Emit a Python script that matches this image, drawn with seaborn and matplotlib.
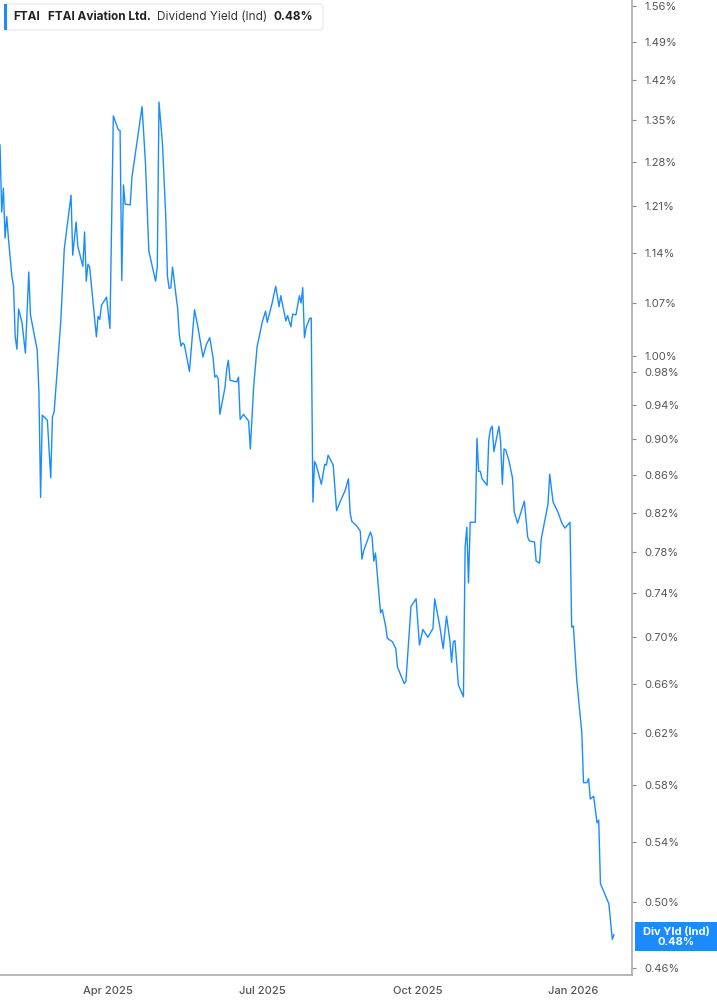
import pandas as pd
import seaborn as sns
import matplotlib.pyplot as plt
import matplotlib.dates as mdates
from matplotlib.patches import Rectangle, FancyBboxPatch
from matplotlib.ticker import FixedLocator, FixedFormatter, NullLocator

# dividend yield (Ind), percent
dates = [
    "2025-01-27", "2025-01-28", "2025-01-29", "2025-01-30", "2025-01-31", "2025-02-01",
    "2025-02-03", "2025-02-04", "2025-02-05", "2025-02-06", "2025-02-07", "2025-02-09",
    "2025-02-11", "2025-02-13", "2025-02-14", "2025-02-18", "2025-02-19", "2025-02-20",
    "2025-02-21", "2025-02-24", "2025-02-26", "2025-02-27", "2025-02-28", "2025-03-02",
    "2025-03-04", "2025-03-06", "2025-03-10", "2025-03-11", "2025-03-13", "2025-03-14",
    "2025-03-17", "2025-03-18", "2025-03-19", "2025-03-20", "2025-03-21", "2025-03-25",
    "2025-03-26", "2025-03-27", "2025-03-28", "2025-03-31", "2025-04-02", "2025-04-04",
    "2025-04-07", "2025-04-08", "2025-04-09", "2025-04-10", "2025-04-11", "2025-04-14",
    "2025-04-15", "2025-04-21", "2025-04-23", "2025-04-25", "2025-04-29", "2025-04-30",
    "2025-05-01", "2025-05-03", "2025-05-05", "2025-05-06", "2025-05-07", "2025-05-08",
    "2025-05-09", "2025-05-12", "2025-05-13", "2025-05-14", "2025-05-15", "2025-05-16",
    "2025-05-19", "2025-05-22", "2025-05-24", "2025-05-27", "2025-05-29", "2025-05-31",
    "2025-06-02", "2025-06-03", "2025-06-04", "2025-06-05", "2025-06-06", "2025-06-09",
    "2025-06-10", "2025-06-11", "2025-06-12", "2025-06-16", "2025-06-17", "2025-06-18",
    "2025-06-20", "2025-06-23", "2025-06-24", "2025-06-26", "2025-06-28", "2025-07-01",
    "2025-07-03", "2025-07-04", "2025-07-07", "2025-07-09", "2025-07-11", "2025-07-12",
    "2025-07-15", "2025-07-16", "2025-07-18", "2025-07-19", "2025-07-21", "2025-07-23",
    "2025-07-24", "2025-07-25", "2025-07-26", "2025-07-27", "2025-07-29", "2025-07-30",
    "2025-07-31", "2025-08-01", "2025-08-02", "2025-08-05", "2025-08-07", "2025-08-08",
    "2025-08-09", "2025-08-12", "2025-08-14", "2025-08-16", "2025-08-19", "2025-08-21",
    "2025-08-22", "2025-08-23", "2025-08-26", "2025-08-28", "2025-08-29", "2025-08-30",
    "2025-09-03", "2025-09-04", "2025-09-05", "2025-09-06", "2025-09-09", "2025-09-10",
    "2025-09-12", "2025-09-13", "2025-09-16", "2025-09-18", "2025-09-19", "2025-09-23",
    "2025-09-24", "2025-09-27", "2025-09-30", "2025-10-02", "2025-10-04", "2025-10-07",
    "2025-10-10", "2025-10-11", "2025-10-14", "2025-10-16", "2025-10-18", "2025-10-20",
    "2025-10-21", "2025-10-22", "2025-10-23", "2025-10-25", "2025-10-28", "2025-10-29",
    "2025-10-30", "2025-10-31", "2025-11-01", "2025-11-04", "2025-11-05", "2025-11-06",
    "2025-11-07", "2025-11-08", "2025-11-11", "2025-11-12", "2025-11-13", "2025-11-14",
    "2025-11-15", "2025-11-18", "2025-11-19", "2025-11-20", "2025-11-21", "2025-11-22",
    "2025-11-24", "2025-11-26", "2025-11-27", "2025-11-29", "2025-12-03", "2025-12-05",
    "2025-12-06", "2025-12-09", "2025-12-10", "2025-12-12", "2025-12-13", "2025-12-17",
    "2025-12-18", "2025-12-20", "2025-12-23", "2025-12-25", "2025-12-27", "2025-12-30",
    "2025-12-31", "2026-01-01", "2026-01-03", "2026-01-06", "2026-01-07", "2026-01-09",
    "2026-01-10", "2026-01-11", "2026-01-13", "2026-01-15", "2026-01-16", "2026-01-17",
    "2026-01-22", "2026-01-24", "2026-01-25",
]
yield_pct = [
    1.308, 1.201, 1.238, 1.162, 1.194, 1.161,
    1.107, 1.093, 1.025, 1.009, 1.062, 1.044,
    1.004, 1.113, 1.054, 1.008, 0.956, 0.836,
    0.928, 0.922, 0.857, 0.926, 0.932, 0.987,
    1.048, 1.146, 1.227, 1.137, 1.186, 1.150,
    1.121, 1.171, 1.100, 1.124, 1.120, 1.025,
    1.052, 1.048, 1.067, 1.078, 1.036, 1.357,
    1.333, 1.332, 1.101, 1.243, 1.213, 1.212,
    1.255, 1.373, 1.278, 1.143, 1.100, 1.121,
    1.381, 1.312, 1.195, 1.107, 1.090, 1.091,
    1.120, 1.063, 1.028, 1.013, 1.017, 1.015,
    0.981, 1.061, 1.038, 0.999, 1.015, 1.024,
    0.998, 0.974, 0.976, 0.972, 0.929, 0.961,
    0.983, 0.995, 0.970, 0.968, 0.974, 0.923,
    0.929, 0.921, 0.889, 0.963, 1.012, 1.044,
    1.059, 1.044, 1.071, 1.093, 1.065, 1.080,
    1.046, 1.053, 1.038, 1.055, 1.054, 1.080,
    1.070, 1.091, 1.024, 1.037, 1.049, 1.050,
    0.831, 0.875, 0.871, 0.850, 0.872, 0.871,
    0.882, 0.871, 0.822, 0.831, 0.843, 0.856,
    0.820, 0.811, 0.806, 0.801, 0.773, 0.781,
    0.800, 0.795, 0.771, 0.779, 0.722, 0.725,
    0.710, 0.699, 0.696, 0.690, 0.674, 0.660,
    0.662, 0.728, 0.735, 0.693, 0.707, 0.700,
    0.708, 0.735, 0.710, 0.690, 0.719, 0.697,
    0.678, 0.696, 0.697, 0.659, 0.649, 0.785,
    0.805, 0.750, 0.810, 0.810, 0.901, 0.864,
    0.864, 0.856, 0.849, 0.900, 0.912, 0.915,
    0.886, 0.915, 0.897, 0.850, 0.889, 0.888,
    0.875, 0.857, 0.821, 0.809, 0.832, 0.795,
    0.791, 0.790, 0.771, 0.769, 0.793, 0.829,
    0.861, 0.831, 0.820, 0.810, 0.804, 0.810,
    0.709, 0.710, 0.663, 0.620, 0.582, 0.582,
    0.585, 0.570, 0.572, 0.553, 0.555, 0.512,
    0.499, 0.477, 0.480,
]
y_ticks = [0.46, 0.50, 0.54, 0.58, 0.62, 0.66, 0.70, 0.74, 0.78, 0.82, 0.86, 0.90,
           0.94, 0.98, 1.00, 1.07, 1.14, 1.21, 1.28, 1.35, 1.42, 1.49, 1.56]
x_ticks = ["2025-04-01", "2025-07-01", "2025-10-01", "2026-01-01"]
x_tick_labels = ["Apr 2025", "Jul 2025", "Oct 2025", "Jan 2026"]
last_value = yield_pct[-1]

BLUE = "#1a8cff"
W, H = 717, 1005

df = pd.DataFrame({"date": pd.to_datetime(dates), "yield": yield_pct})

sns.set_style("white")
plt.rcParams["font.family"] = ["Inter", "DejaVu Sans"]

fig = plt.figure(figsize=(W / 100, H / 100), dpi=100)
ax = fig.add_axes([0, 1 - 975 / H, 632 / W, 975 / H])

sns.lineplot(data=df, x="date", y="yield", ax=ax, color=BLUE, linewidth=1.0)

ax.set_yscale("log")
ax.set_ylim(0.4559, 1.572)
ax.set_xlim(pd.Timestamp("2025-01-27"), pd.Timestamp("2026-02-04 16:00"))

ax.yaxis.set_major_locator(FixedLocator(y_ticks))
ax.yaxis.set_major_formatter(FixedFormatter([f"{t:.2f}%" for t in y_ticks]))
ax.yaxis.set_minor_locator(NullLocator())
ax.yaxis.tick_right()
ax.set_xticks(pd.to_datetime(x_ticks))
ax.set_xticklabels(x_tick_labels)

ax.tick_params(axis="y", length=3, width=0.8, color="#888888", labelcolor="#555555",
               labelsize=8, pad=6)
ax.tick_params(axis="x", length=4, width=0.8, color="#999999", labelcolor="#555555",
               labelsize=8, pad=4)
for lab in ax.get_xticklabels():
    lab.set_fontweight("medium")

ax.set_xlabel("")
ax.set_ylabel("")
for s in ["top", "left"]:
    ax.spines[s].set_visible(False)
for s in ["right", "bottom"]:
    ax.spines[s].set_color("#aaaaaa")
    ax.spines[s].set_linewidth(1.2)
ax.grid(False)


def fx(x):
    return x / W


def fy(y):
    return 1 - y / H


# legend box top-left
fig.patches.append(FancyBboxPatch((fx(5), fy(30)), fx(318), 26 / H,
                                  boxstyle="round,pad=0,rounding_size=0.004",
                                  transform=fig.transFigure, facecolor="white",
                                  edgecolor="#e6e6e6", linewidth=0.8, zorder=5))
fig.patches.append(Rectangle((fx(4), fy(30)), fx(3), 26 / H, transform=fig.transFigure,
                             facecolor=BLUE, edgecolor="none", zorder=6))
fig.text(fx(13), fy(17), "FTAI", fontsize=8.5, fontweight="bold", color="#222222",
         va="center", zorder=7)
fig.text(fx(48), fy(17), "FTAI Aviation Ltd.", fontsize=8.5, fontweight="bold",
         color="#222222", va="center", zorder=7)
fig.text(fx(157), fy(17), "Dividend Yield (Ind)", fontsize=8.5, color="#333333",
         va="center", zorder=7)
fig.text(fx(274), fy(17), f"{last_value:.2f}%", fontsize=8.5, fontweight="bold",
         color="#222222", va="center", zorder=7)

# last value marker on right axis
fig.patches.append(Rectangle((fx(635), fy(951)), fx(82), 29 / H, transform=fig.transFigure,
                             facecolor=BLUE, edgecolor="none", zorder=5))
fig.text(fx(676), fy(936.5), f"Div Yld (Ind)\n{last_value:.2f}%", fontsize=8,
         fontweight="bold", color="white", ha="center", va="center",
         linespacing=1.0, zorder=6)

fig.savefig("out.png", dpi=100)
